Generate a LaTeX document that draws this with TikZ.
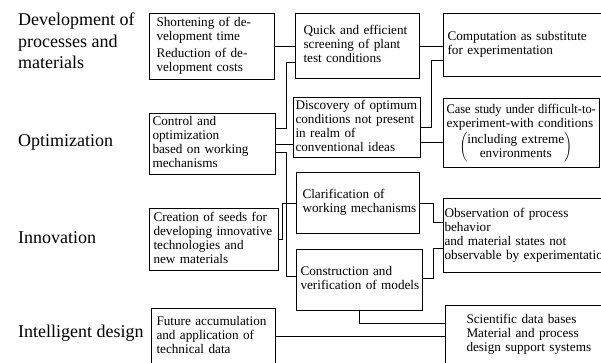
\documentclass[tikz,border=0pt]{standalone}
\usepackage{fontspec}
\usepackage{graphicx}
\setmainfont{Liberation Serif}
\newcommand{\rows}[1]{\begin{tabular}{@{}l@{}}#1\end{tabular}}

\begin{document}
\begin{tikzpicture}[x=1pt, y=-1pt]
  \tikzset{
    box/.style={draw, line width=1pt, anchor=north west, align=left, inner ysep=0pt,
      font=\fontsize{13.2}{14}\selectfont},
    lbl/.style={anchor=west, align=left, inner sep=0pt, font=\fontsize{18}{21.5}\selectfont},
    link/.style={line width=1pt}
  }
  \clip (0,0) rectangle (601,362);

  % Rijlabels
  \node[lbl] (devt) at (18,41) {Development of\\processes and\\materials};
  \node[lbl] (opt) at (18,142) {Optimization};
  \node[lbl] (inno) at (18,238) {Innovation};
  \node[lbl] (intel) at (18,333) {Intelligent design};

  % Kolom 1
  \node[box, inner xsep=7pt, text width=111pt, minimum height=66] (B1) at (149,13)
    {\rows{Shortening of de-\\velopment time\\[3pt]Reduction of de-\\velopment costs}};
  \node[box, inner xsep=3pt, text width=120pt, minimum height=61] (B2) at (149,113)
    {\rows{Control and\\optimization\\based on working\\mechanisms}};
  \node[box, inner xsep=4pt, text width=121pt, minimum height=62] (B3) at (149,208)
    {\rows{Creation of seeds for\\developing innovative\\technologies and\\new materials}};
  \node[box, inner xsep=5pt, text width=114pt, minimum height=56] (B4) at (151,308)
    {\rows{Future accumulation\\and application of\\technical data}};

  % Kolom 2
  \node[box, inner xsep=8pt, text width=108pt, minimum height=65] (C1) at (295,13)
    {\rows{Quick and efficient\\screening of plant\\test conditions}};
  \node[box, inner xsep=2pt, text width=123pt, minimum height=60] (C2) at (293,97)
    {\rows{Discovery of optimum\\conditions not present\\in realm of\\conventional ideas}};
  \node[box, inner xsep=6pt, text width=111pt, minimum height=61] (C3) at (296,172)
    {\rows{Clarification of\\working mechanisms}};
  \node[box, inner xsep=4pt, text width=118pt, minimum height=61] (C4) at (296,249)
    {\rows{Construction and\\verification of models}};

  % Kolom 3
  \node[box, inner xsep=4pt, text width=162pt, minimum height=63] (D1) at (443,13)
    {\rows{Computation as substitute\\for experimentation}};
  \node[box, inner xsep=3pt, text width=150pt, minimum height=69] (D2) at (443,98)
    {\rows{\scalebox{0.94}[1]{Case study under difficult-to-}\\experiment-with conditions\\[1pt]
     \hspace*{13pt}$\left(\begin{tabular}{@{}c@{}}including extreme\\environments\end{tabular}\right)$}};
  \node[box, inner xsep=1pt, text width=178pt, minimum height=74] (D3) at (443,198)
    {\rows{Observation of process\\behavior\\and material states not\\observable by experimentation}};
  \node[box, inner xsep=21pt, text width=128pt, minimum height=59] (D4) at (445,305)
    {\rows{Scientific data bases\\Material and process\\design support systems}};

  % Verbindingen kolom 1 -> 2
  \draw[link] (B1.east) -- (B1.east -| C1.west);
  \draw[link] ([yshift=-15pt]B2.north east) -- ++(10,0) |- ([yshift=-49pt]C1.north west);
  \draw[link] (B2.east) -- (B2.east -| C2.west);
  \draw[link] ([yshift=-39pt]B2.north east) -- ++(10,0) |- ([yshift=-27pt]C4.north west);
  \draw[link] (B3.east) -- ++(3,0) |- (C3.west);
  \draw[link] (B4.east) -- (B4.east -| D4.west);

  % Verbindingen kolom 2 -> 3
  \draw[link] (C1.east) -- (C1.east -| D1.west);
  \draw[link] (C2.east) -- ++(10,0) |- ([yshift=-47pt]D1.north west);
  \draw[link] ([yshift=-45pt]C2.north east) -- ([yshift=-44pt]D2.north west);
  \draw[link] (C3.east) -- ++(13,0) |- ([yshift=-24pt]D3.north west);
  \draw[link] ([yshift=-29pt]C4.north east) -- ++(10,0) |- ([yshift=-50pt]D3.north west);
  \draw[link] (C4.south) |- ([yshift=-18pt]D4.north west);
\end{tikzpicture}
\end{document}
